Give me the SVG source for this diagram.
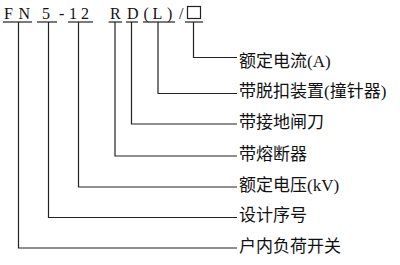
<svg xmlns="http://www.w3.org/2000/svg" width="400" height="265" viewBox="0 0 400 265">
<style>
.code{font-family:"Liberation Serif","Times New Roman",serif;font-size:16px;fill:#111}
.lbl{font-family:"Liberation Serif","Noto Sans CJK SC",serif;font-size:17px;fill:#111}
.ul{stroke:#222;stroke-width:1.2;fill:none}
.conn{stroke:#222;stroke-width:1.2;fill:none}
</style>
<rect width="400" height="265" fill="#fff"/>
<g id="code-FN">
<text class="code" x="4" y="18.5">F</text><text class="code" x="18.5" y="18.5">N</text>
<line class="ul" x1="3" y1="22" x2="32" y2="22"/>
</g>
<g id="code-5">
<text class="code" x="42" y="18.5">5</text>
<line class="ul" x1="37" y1="22" x2="57" y2="22"/>
</g>
<g id="code-dash"><text class="code" x="59" y="18.5">-</text></g>
<g id="code-12">
<text class="code" x="69" y="18.5">1</text><text class="code" x="81" y="18.5">2</text>
<line class="ul" x1="68" y1="22" x2="93" y2="22"/>
</g>
<g id="code-R">
<text class="code" x="110" y="18.5">R</text>
<line class="ul" x1="108.5" y1="22" x2="122" y2="22"/>
</g>
<g id="code-D">
<text class="code" x="127" y="18.5">D</text>
<line class="ul" x1="126" y1="22" x2="138" y2="22"/>
</g>
<g id="code-L">
<text class="code" x="143.5" y="18.5">(</text><text class="code" x="152.5" y="18.5">L</text><text class="code" x="167" y="18.5">)</text>
<line class="ul" x1="143" y1="22" x2="175" y2="22"/>
</g>
<g id="code-slash"><text class="code" x="179" y="18.5">/</text></g>
<g id="code-box">
<rect x="187.5" y="6.5" width="13" height="12" fill="none" stroke="#222" stroke-width="1.2"/>
<line class="ul" x1="185" y1="22" x2="203" y2="22"/>
</g>
<g id="connectors">
<polyline class="conn" points="193.5,22 193.5,57.5 237,57.5"/>
<polyline class="conn" points="158,22 158,93.5 237,93.5"/>
<polyline class="conn" points="131.5,22 131.5,124 237,124"/>
<polyline class="conn" points="115,22 115,156 237,156"/>
<polyline class="conn" points="78.5,22 78.5,187 237,187"/>
<polyline class="conn" points="48.5,22 48.5,217.5 237,217.5"/>
<polyline class="conn" points="18.5,22 18.5,248 237,248"/>
</g>
<g id="label-current"><text class="lbl" x="239" y="66.5">额定电流(A)</text></g>
<g id="label-trip"><text class="lbl" x="239" y="97">带脱扣装置(撞针器)</text></g>
<g id="label-earth"><text class="lbl" x="239" y="127.5">带接地闸刀</text></g>
<g id="label-fuse"><text class="lbl" x="239" y="159.5">带熔断器</text></g>
<g id="label-voltage"><text class="lbl" x="239" y="190.5">额定电压(kV)</text></g>
<g id="label-serial"><text class="lbl" x="239" y="221">设计序号</text></g>
<g id="label-type"><text class="lbl" x="239" y="251.5">户内负荷开关</text></g>
</svg>
